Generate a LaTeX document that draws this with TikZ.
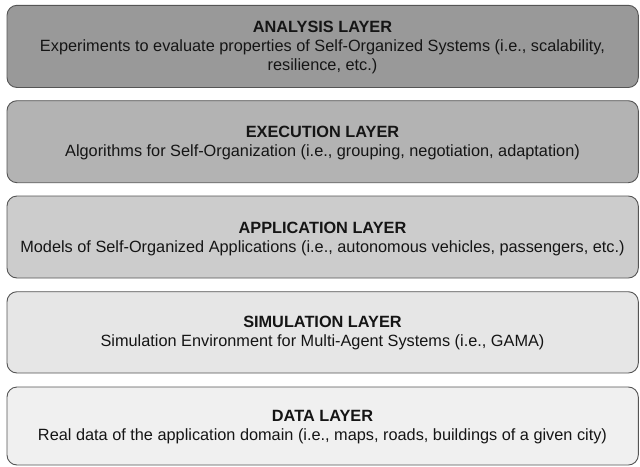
\documentclass[tikz,border=0pt]{standalone}
\usepackage{fontspec}
\setmainfont{Liberation Sans}
\definecolor{fillA}{HTML}{999999}
\definecolor{fillB}{HTML}{B3B3B3}
\definecolor{fillC}{HTML}{CCCCCC}
\definecolor{fillD}{HTML}{E6E6E6}
\definecolor{fillE}{HTML}{F0F0F0}
\definecolor{edgecol}{HTML}{555555}
\definecolor{txtcol}{HTML}{151515}
\begin{document}
\begin{tikzpicture}[x=1pt,y=-1pt,
  layer/.style={draw=edgecol, line width=0.9pt, rounded corners=10pt},
  lbl/.style={align=center, text=txtcol, font=\fontsize{16.3}{19}\selectfont, inner sep=0pt}]
\useasboundingbox (0,0) rectangle (640,466);
\fill[white] (0,0) rectangle (640,466);
\draw[layer, fill=fillA] (7,5.3) rectangle (638.3,87.5);
\draw[layer, fill=fillB] (7,100.7) rectangle (638.3,182.7);
\draw[layer, fill=fillC] (7,196) rectangle (638.3,278);
\draw[layer, fill=fillD] (7,291.7) rectangle (638.3,373);
\draw[layer, fill=fillE] (7,387) rectangle (638.3,465);
\node[lbl] (analysis) at (322.5,47.5) {\textbf{ANALYSIS LAYER}\\Experiments to evaluate properties of Self-Organized Systems (i.e., scalability,\\resilience, etc.)};
\node[lbl] (execution) at (322.5,142.5) {\textbf{EXECUTION LAYER}\\Algorithms for Self-Organization (i.e., grouping, negotiation, adaptation)};
\node[lbl] (application) at (322.5,238.5) {\textbf{APPLICATION LAYER}\\Models of Self-Organized Applications (i.e., autonomous vehicles, passengers, etc.)};
\node[lbl] (simulation) at (322.5,333) {\textbf{SIMULATION LAYER}\\Simulation Environment for Multi-Agent Systems (i.e., GAMA)};
\node[lbl] (data) at (322.5,427.5) {\textbf{DATA LAYER}\\Real data of the application domain (i.e., maps, roads, buildings of a given city)};
\end{tikzpicture}
\end{document}
